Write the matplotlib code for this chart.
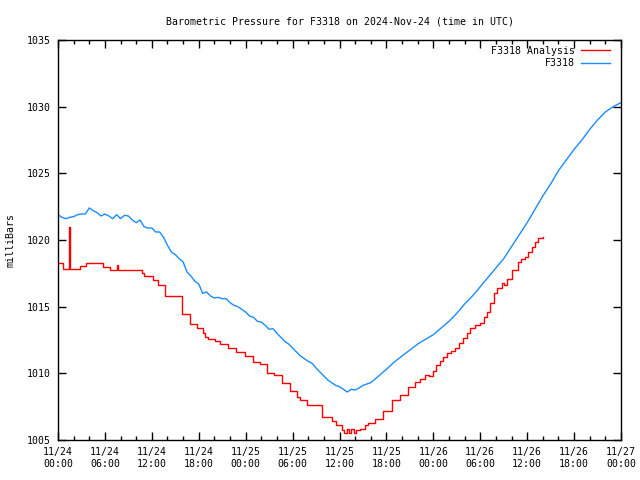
import matplotlib
matplotlib.use("Agg")
import matplotlib.pyplot as plt

# hours since 2024-11-24 00:00 UTC: half-hourly up to 40 h, then hourly
blue_hours = [i * 0.5 for i in range(81)] + list(range(41, 73))
blue_mb = [
    1021.9, 1021.7, 1021.6, 1021.7, 1021.75, 1021.9, 1021.95, 1021.95, 1022.4, 1022.2,
    1022.05, 1021.8, 1021.95, 1021.8, 1021.6, 1021.9, 1021.6, 1021.85, 1021.8, 1021.5,
    1021.3, 1021.5, 1021.0, 1020.9, 1020.9, 1020.6, 1020.6, 1020.2, 1019.6, 1019.1,
    1018.9, 1018.6, 1018.35, 1017.6, 1017.3, 1016.9, 1016.7, 1016.0, 1016.1, 1015.8,
    1015.65, 1015.7, 1015.6, 1015.6, 1015.3, 1015.1, 1015.0, 1014.8, 1014.6, 1014.3,
    1014.2, 1013.9, 1013.85, 1013.6, 1013.3, 1013.35, 1013.0, 1012.7, 1012.4, 1012.2,
    1011.9, 1011.6, 1011.3, 1011.1, 1010.9, 1010.75, 1010.4, 1010.1, 1009.8, 1009.5,
    1009.3, 1009.1, 1009.0, 1008.8, 1008.6, 1008.8, 1008.75, 1008.9, 1009.1, 1009.2,
    1009.3,
    1009.8, 1010.3, 1010.85, 1011.3, 1011.75, 1012.2, 1012.55, 1012.9, 1013.4, 1013.9,
    1014.5, 1015.2, 1015.8, 1016.5, 1017.2, 1017.9, 1018.6, 1019.5, 1020.4, 1021.3,
    1022.3, 1023.3, 1024.2, 1025.2, 1026.0, 1026.8, 1027.5, 1028.3, 1029.0, 1029.6,
    1030.0, 1030.3,
]

red_hours = [
    0, 0.6, 1.4, 1.55, 2.8, 3.6, 5.8, 6.6, 7.5, 7.65, 10.7, 11.0, 12.1, 12.8, 13.7,
    15.9, 16.9, 17.8, 18.5, 18.8, 19.2, 20.1, 20.7, 21.7, 22.8, 23.9, 24.9, 25.8,
    26.7, 27.6, 28.6, 29.7, 30.6, 31.0, 31.8, 33.7, 35.0, 35.6, 36.3, 36.6, 36.9,
    37.2, 37.5, 37.8, 38.1, 38.6, 39.3, 39.7, 40.6, 41.6, 42.7, 43.7, 44.8, 45.7,
    46.3, 46.9, 47.4, 47.9, 48.4, 48.9, 49.3, 49.7, 50.2, 50.8, 51.3, 51.8, 52.3,
    52.7, 53.3, 54.0, 54.5, 54.9, 55.3, 55.7, 56.2, 56.8, 57.0, 57.4, 58.1, 58.8,
    59.2, 59.7, 60.1, 60.6, 61.0, 61.4, 62.0,
]
red_mb = [
    1018.3, 1017.8, 1021.0, 1017.8, 1018.05, 1018.25, 1018.0, 1017.75, 1018.1, 1017.75,
    1017.5, 1017.3, 1017.0, 1016.6, 1015.8, 1014.45, 1013.7, 1013.4, 1013.0, 1012.7,
    1012.55, 1012.4, 1012.2, 1011.9, 1011.6, 1011.3, 1010.85, 1010.7, 1010.0, 1009.85,
    1009.3, 1008.7, 1008.2, 1008.0, 1007.6, 1006.7, 1006.4, 1006.1, 1005.75, 1005.55,
    1005.8, 1005.5, 1005.8, 1005.55, 1005.75, 1005.8, 1006.1, 1006.25, 1006.6, 1007.15,
    1008.0, 1008.4, 1009.0, 1009.35, 1009.6, 1009.85, 1009.8, 1010.2, 1010.6, 1010.95,
    1011.2, 1011.5, 1011.7, 1011.9, 1012.3, 1012.65, 1013.0, 1013.4, 1013.6, 1013.75,
    1014.2, 1014.6, 1015.3, 1016.0, 1016.4, 1016.75, 1016.6, 1017.1, 1017.75, 1018.35,
    1018.6, 1018.7, 1019.1, 1019.5, 1019.85, 1020.15, 1020.2,
]

tick_hours = list(range(0, 73, 6))
tick_labels = [
    "11/24\n00:00", "11/24\n06:00", "11/24\n12:00", "11/24\n18:00",
    "11/25\n00:00", "11/25\n06:00", "11/25\n12:00", "11/25\n18:00",
    "11/26\n00:00", "11/26\n06:00", "11/26\n12:00", "11/26\n18:00",
    "11/27\n00:00",
]

plt.rcParams["font.family"] = ["DejaVu Sans Mono"]
plt.rcParams["font.size"] = 7.1

fig = plt.figure(figsize=(6.4, 4.8), dpi=100)
ax = fig.add_axes([58 / 640, 40 / 480, 563 / 640, 400 / 480])

ax.plot(red_hours, red_mb, color="#ff0000", lw=1, drawstyle="steps-post", label="F3318 Analysis")
ax.plot(blue_hours, blue_mb, color="#1a8cff", lw=1, label="F3318")

ax.set_xlim(0, 72)
ax.set_ylim(1005, 1035)
ax.set_xticks(tick_hours)
ax.set_xticklabels(tick_labels)
ax.set_xticks(range(0, 73, 2), minor=True)
ax.set_yticks(range(1005, 1036, 5))
ax.tick_params(which="both", direction="in", top=True, right=True, width=1)
ax.tick_params(which="major", length=6, pad=5)
ax.tick_params(which="minor", length=3)
for s in ax.spines.values():
    s.set_linewidth(1)

ax.set_ylabel("milliBars", labelpad=8)
ax.set_title("Barometric Pressure for F3318 on 2024-Nov-24 (time in UTC)",
             fontsize=7.1, pad=11)

# shift the legend a few pixels in from the right edge
ax.legend(loc="upper right", bbox_to_anchor=(1 - 5 / 563, 1), frameon=False,
          markerfirst=False, handlelength=3, borderaxespad=0.2,
          labelspacing=0.25, handletextpad=0.6)

fig.savefig("out.png", dpi=100)
